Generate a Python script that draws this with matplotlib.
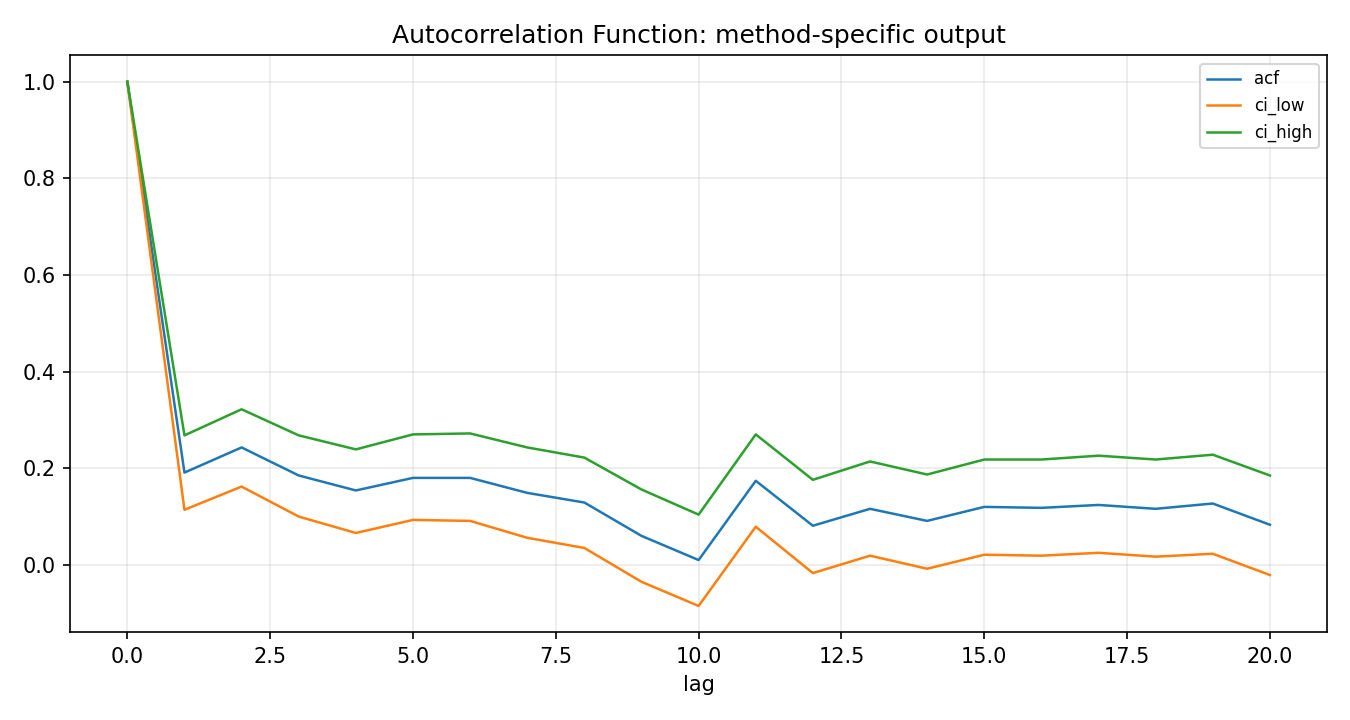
import matplotlib
matplotlib.use("Agg")
import matplotlib.pyplot as plt

lags = list(range(21))
acf = [1.0, 0.191, 0.243, 0.185, 0.154, 0.180, 0.180, 0.149, 0.129, 0.060, 0.010,
       0.174, 0.081, 0.116, 0.091, 0.120, 0.118, 0.124, 0.116, 0.127, 0.083]
ci_low = [1.0, 0.114, 0.162, 0.100, 0.066, 0.093, 0.091, 0.056, 0.035, -0.035, -0.085,
          0.079, -0.017, 0.019, -0.008, 0.021, 0.019, 0.025, 0.017, 0.023, -0.021]
ci_high = [1.0, 0.268, 0.322, 0.268, 0.239, 0.270, 0.272, 0.243, 0.222, 0.156, 0.104,
           0.270, 0.176, 0.214, 0.187, 0.218, 0.218, 0.226, 0.218, 0.228, 0.185]

fig, ax = plt.subplots(figsize=(9, 4.8), dpi=150)
ax.plot(lags, acf, label="acf", lw=1.2)
ax.plot(lags, ci_low, label="ci_low", lw=1.2)
ax.plot(lags, ci_high, label="ci_high", lw=1.2)
ax.set_title("Autocorrelation Function: method-specific output")
ax.set_xlabel("lag")
ax.grid(True, alpha=0.25)
ax.legend(loc="upper right", fontsize=8)
fig.subplots_adjust(left=0.052, right=0.983, top=0.923, bottom=0.122)
fig.savefig("out.png")
